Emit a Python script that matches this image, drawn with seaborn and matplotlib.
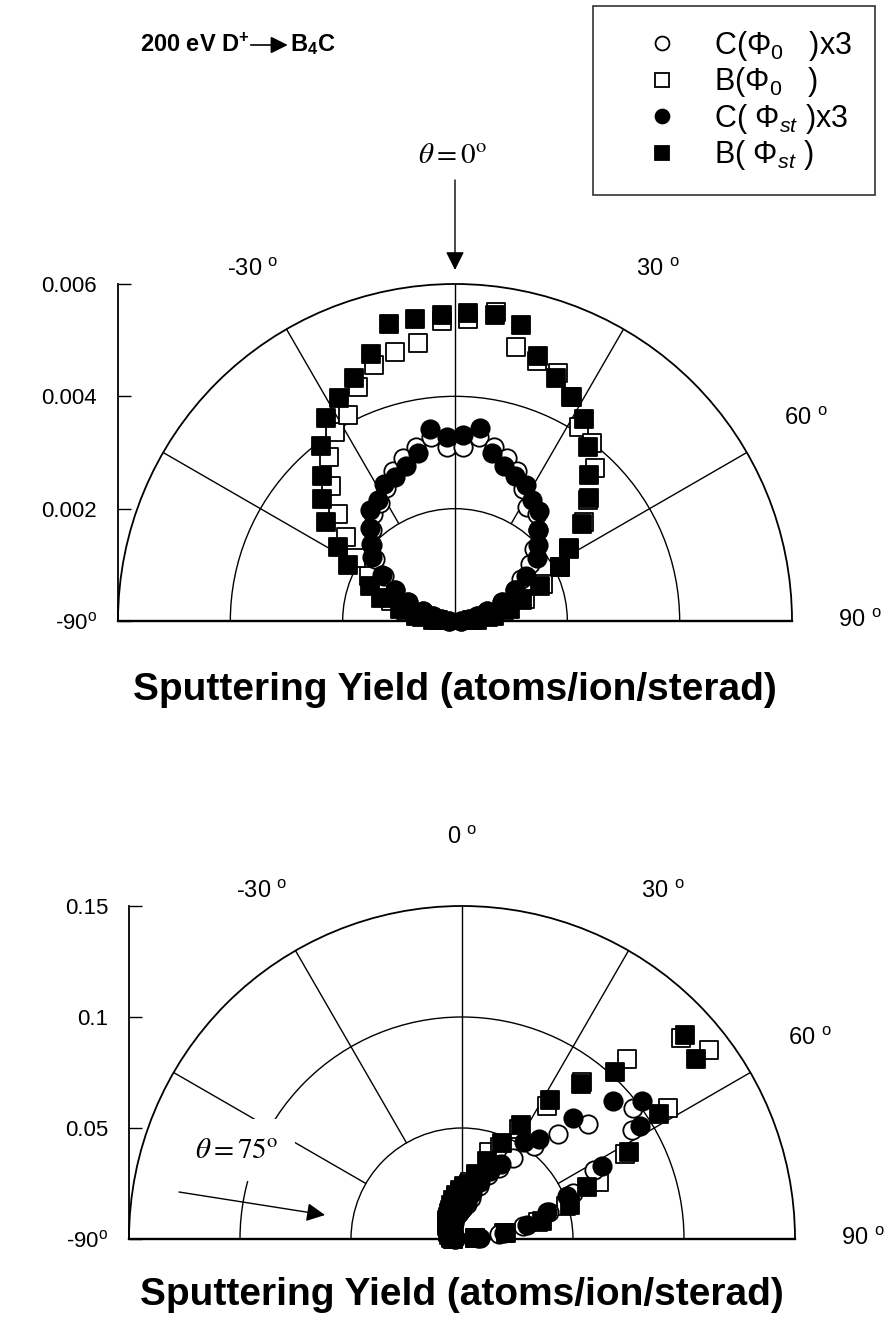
import numpy as np
import matplotlib
matplotlib.use("Agg")
import matplotlib.pyplot as plt
import seaborn as sns
from matplotlib import font_manager
from matplotlib.lines import Line2D
from matplotlib.patches import FancyArrowPatch

# ---------------- data ----------------
angles_deg = [-87.5, -82.5, -77.5, -72.5, -67.5, -62.5, -57.5, -52.5, -47.5,
              -42.5, -37.5, -32.5, -27.5, -22.5, -17.5, -12.5, -7.5, -2.5,
              2.5, 7.5, 12.5, 17.5, 22.5, 27.5, 32.5, 37.5, 42.5,
              47.5, 52.5, 57.5, 62.5, 67.5, 72.5, 77.5, 82.5, 87.5]

# normal incidence (theta = 0 deg), atoms/ion/sterad
top_C_phi0 = [0.0001, 0.00025, 0.0004, 0.0006, 0.0009, 0.0012, 0.0015, 0.0018, 0.0020,
              0.0022, 0.0024, 0.0025, 0.00266, 0.0029, 0.00305, 0.00318, 0.0033, 0.0031,
              0.0031, 0.0033, 0.00318, 0.00305, 0.0029, 0.00264, 0.0024, 0.0024, 0.0022,
              0.0019, 0.00168, 0.0014, 0.0012, 0.0009, 0.0006, 0.0004, 0.00025, 0.0001]
top_B_phi0 = [0.0003, 0.0006, 0.0009, 0.0012, 0.0014, 0.00173, 0.0021, 0.00245, 0.00283,
              0.00326, 0.00369, 0.00399, 0.00414, 0.0045, 0.00477, 0.0049, 0.0050, 0.00535,
              0.00538, 0.00555, 0.0050, 0.00486, 0.00478, 0.0045, 0.0041, 0.0040, 0.0037,
              0.0032, 0.0029, 0.0024, 0.0021, 0.0017, 0.0013, 0.0009, 0.0006, 0.0003]
top_C_phist = [0.0001, 0.00025, 0.0004, 0.0006, 0.0009, 0.0012, 0.00154, 0.00186, 0.00204,
               0.00224, 0.00248, 0.00256, 0.00274, 0.00278, 0.00289, 0.00306, 0.00344, 0.00328,
               0.00331, 0.00346, 0.00306, 0.00289, 0.00279, 0.00272, 0.00256, 0.00246, 0.00219,
               0.0020, 0.00183, 0.0015, 0.0012, 0.0009, 0.0006, 0.0004, 0.00025, 0.0001]
top_B_phist = [0.0004, 0.0007, 0.0010, 0.00139, 0.00164, 0.00215, 0.00246, 0.0029, 0.00322,
               0.00351, 0.00392, 0.00429, 0.00448, 0.00469, 0.00498, 0.00541, 0.00543, 0.00545,
               0.00548, 0.0055, 0.0054, 0.00494, 0.00469, 0.00449, 0.00426, 0.0039, 0.00352,
               0.00323, 0.00285, 0.00241, 0.0021, 0.00163, 0.00126, 0.0010, 0.0007, 0.0004]

# oblique incidence (theta = 75 deg)
bot_C_phi0 = [0.003, 0.003, 0.003, 0.004, 0.004, 0.004, 0.005, 0.005, 0.006,
              0.006, 0.007, 0.008, 0.008, 0.009, 0.010, 0.011, 0.012, 0.013,
              0.014, 0.016, 0.019, 0.025, 0.031, 0.036, 0.043, 0.053, 0.064,
              0.077, 0.097, 0.091, 0.067, 0.054, 0.041, 0.028, 0.017, 0.007]
bot_B_phi0 = [0.004, 0.004, 0.005, 0.005, 0.006, 0.006, 0.007, 0.008, 0.008,
              0.009, 0.010, 0.011, 0.012, 0.013, 0.015, 0.017, 0.019, 0.021,
              0.023, 0.026, 0.029, 0.041, 0.045, 0.056, 0.071, 0.089, 0.110,
              0.134, 0.140, 0.110, 0.083, 0.067, 0.049, 0.035, 0.019, 0.006]
bot_C_phist = [0.003, 0.003, 0.004, 0.004, 0.004, 0.005, 0.005, 0.006, 0.006,
               0.007, 0.007, 0.008, 0.009, 0.010, 0.011, 0.012, 0.013, 0.014,
               0.015, 0.017, 0.021, 0.027, 0.033, 0.038, 0.052, 0.057, 0.074,
               0.092, 0.102, 0.095, 0.071, 0.051, 0.040, 0.030, 0.019, 0.008]
bot_B_phist = [0.004, 0.005, 0.005, 0.006, 0.006, 0.007, 0.007, 0.008, 0.009,
               0.010, 0.011, 0.012, 0.013, 0.014, 0.016, 0.018, 0.020, 0.022,
               0.024, 0.025, 0.030, 0.037, 0.047, 0.058, 0.074, 0.088, 0.102,
               0.136, 0.133, 0.105, 0.085, 0.061, 0.051, 0.037, 0.020, 0.006]

series_labels = [u"C(\u03a6$_0$   )x3", u"B(\u03a6$_0$   )",
                 u"C( \u03a6$_{st}$ )x3", u"B( \u03a6$_{st}$ )"]

grid_angles = [-90, -60, -30, 0, 30, 60, 90]
top_rings = [0.002, 0.004, 0.006]
bot_rings = [0.05, 0.1, 0.15]
top_ylabels = ["-90$^{\\mathrm{o}}$", "0.002", "0.004", "0.006"]
bot_ylabels = ["-90$^{\\mathrm{o}}$", "0.05", "0.1", "0.15"]
top_theta_labels = ["", "", "-30 $^{\\mathrm{o}}$", "", "30 $^{\\mathrm{o}}$",
                    "60 $^{\\mathrm{o}}$", "90 $^{\\mathrm{o}}$"]
bot_theta_labels = ["", "", "-30 $^{\\mathrm{o}}$", "0 $^{\\mathrm{o}}$", "30 $^{\\mathrm{o}}$",
                    "60 $^{\\mathrm{o}}$", "90 $^{\\mathrm{o}}$"]

# ---------------- style ----------------
sns.set_theme(style="white")
avail = {f.name for f in font_manager.fontManager.ttflist}
NARROW = "Liberation Sans Narrow" if "Liberation Sans Narrow" in avail else "Liberation Sans"
SANS = "Liberation Sans"
plt.rcParams["font.family"] = [NARROW, "DejaVu Sans"]
plt.rcParams["mathtext.fontset"] = "custom"
plt.rcParams["mathtext.rm"] = NARROW
plt.rcParams["mathtext.it"] = NARROW + ":italic"
plt.rcParams["mathtext.bf"] = SANS + ":bold"
for key in ["text.color", "axes.labelcolor", "xtick.color", "ytick.color"]:
    plt.rcParams[key] = "black"

W, H = 896, 1323
fig = plt.figure(figsize=(W / 100, H / 100), dpi=100, facecolor="white")


def rect(left, top, right, bottom):
    return [left / W, 1 - bottom / H, (right - left) / W, (bottom - top) / H]


theta = np.deg2rad(angles_deg)


def make_panel(left, top, right, base, rings, ylabels, tlabels, data):
    R = (right - left) / 2.0
    cy = (top + base) / 2.0
    # polar axes needs a square box; the half disc is centred inside it
    ax = fig.add_axes(rect(left, cy - R, right, cy + R), projection="polar")
    ax.set_facecolor("white")
    rmax = rings[-1]
    for vals, mk, filled in data:
        sns.scatterplot(x=theta, y=vals, ax=ax, marker=mk, s=175,
                        color="black" if filled else "white",
                        edgecolor="black", linewidth=1.3,
                        clip_on=False, legend=False, zorder=4)
    ax.set_theta_zero_location("N")
    ax.set_theta_direction(-1)
    ax.set_thetamin(-90)
    ax.set_thetamax(90)
    ax.set_rlim(0, rmax)
    ax.set_yticks(rings[:-1])
    ax.set_yticklabels([])
    ax.yaxis.grid(True, color="black", lw=1.0)
    ax.xaxis.grid(False)
    ax.set_xticks(np.deg2rad(grid_angles))
    ax.set_xticklabels(tlabels)
    ax.tick_params(axis="x", length=0, pad=42, labelsize=17)
    ax.tick_params(axis="y", length=0)
    ax.set_xlabel("")
    ax.set_ylabel("")
    for sp in ax.spines.values():
        sp.set_color("black")
        sp.set_linewidth(1.3)
    for name in ["start", "end"]:
        ax.spines[name].set_linewidth(1.7)
    # spokes
    for a in grid_angles[1:-1]:
        start = 0 if a == 0 else rings[0]
        ax.plot([np.deg2rad(a)] * 2, [start, rmax], color="black", lw=1.0, zorder=2)
    # cartesian overlay for the radial scale on the left
    axy = fig.add_axes(rect(left, top, right, base), facecolor="none")
    axy.set_xlim(0, 1)
    axy.set_ylim(0, rmax)
    axy.set_yticks([0] + rings)
    axy.set_yticklabels(ylabels)
    axy.set_xticks([])
    for name in ["top", "right", "bottom"]:
        axy.spines[name].set_visible(False)
    axy.spines["left"].set_color("black")
    axy.spines["left"].set_linewidth(1.3)
    axy.tick_params(axis="y", direction="in", length=9, width=1.0, color="black",
                    labelsize=16, pad=15, left=True)
    return ax


top_data = [(top_B_phi0, "s", False), (top_C_phi0, "o", False),
            (top_B_phist, "s", True), (top_C_phist, "o", True)]
bot_data = [(bot_B_phi0, "s", False), (bot_C_phi0, "o", False),
            (bot_B_phist, "s", True), (bot_C_phist, "o", True)]

ax1 = make_panel(118, 284, 792, 621, top_rings, top_ylabels, top_theta_labels, top_data)
ax2 = make_panel(129, 906, 795, 1239, bot_rings, bot_ylabels, bot_theta_labels, bot_data)

# axis titles
fig.text(455 / W, 1 - 690 / H, "Sputtering Yield (atoms/ion/sterad)", family=SANS,
         weight="bold", fontsize=28, ha="center", va="center")
fig.text(462 / W, 1 - 1295 / H, "Sputtering Yield (atoms/ion/sterad)", family=SANS,
         weight="bold", fontsize=28, ha="center", va="center")

# title: "200 eV D+ --> B4C"
renderer = fig.canvas.get_renderer()
t1 = fig.text(140 / W, 1 - 45 / H, r"200 eV D$^{\mathbf{+}}$", family=SANS, weight="bold",
              fontsize=17, ha="left", va="center")
x_end = t1.get_window_extent(renderer=renderer).x1
fig.add_artist(FancyArrowPatch(((x_end + 1) / W, 1 - 45 / H), ((x_end + 38) / W, 1 - 45 / H),
                               transform=fig.transFigure, arrowstyle="-|>",
                               mutation_scale=26, lw=1.2, color="black",
                               shrinkA=0, shrinkB=0))
fig.text((x_end + 40) / W, 1 - 45 / H, r"B$_{\mathbf{4}}$C", family=SANS, weight="bold",
         fontsize=17, ha="left", va="center")

# theta annotations
fig.text(452 / W, 1 - 155 / H, r"$\theta = 0^{\mathrm{o}}$", math_fontfamily="stix",
         fontsize=21, ha="center", va="center")
fig.add_artist(FancyArrowPatch((455 / W, 1 - 180 / H), (455 / W, 1 - 270 / H),
                               transform=fig.transFigure, arrowstyle="-|>",
                               mutation_scale=28, lw=1.0, color="black",
                               shrinkA=0, shrinkB=0))
fig.text(237 / W, 1 - 1150 / H, r"$\theta = 75^{\mathrm{o}}$", math_fontfamily="stix",
         fontsize=21, ha="center", va="center", zorder=10,
         bbox=dict(facecolor="white", edgecolor="none", pad=12))
fig.add_artist(FancyArrowPatch((179 / W, 1 - 1192 / H), (325 / W, 1 - 1215 / H),
                               transform=fig.transFigure, arrowstyle="-|>",
                               mutation_scale=28, lw=1.0, color="black",
                               shrinkA=0, shrinkB=0))

# legend
handles = [
    Line2D([], [], ls="none", marker="o", ms=10, mfc="white", mec="black", mew=1.3),
    Line2D([], [], ls="none", marker="s", ms=10, mfc="white", mec="black", mew=1.3),
    Line2D([], [], ls="none", marker="o", ms=10, mfc="black", mec="black", mew=1.3),
    Line2D([], [], ls="none", marker="s", ms=10, mfc="black", mec="black", mew=1.3),
]
leg = fig.legend(handles, series_labels, loc="upper left",
                 bbox_to_anchor=(593 / W, 1 - 6 / H), frameon=True, fancybox=False,
                 edgecolor="black", fontsize=22, handletextpad=0.2, borderpad=0.75,
                 labelspacing=0.08, handlelength=3.0, borderaxespad=0)
leg.get_frame().set_linewidth(1.2)

fig.savefig("out.png", dpi=100, facecolor="white")
